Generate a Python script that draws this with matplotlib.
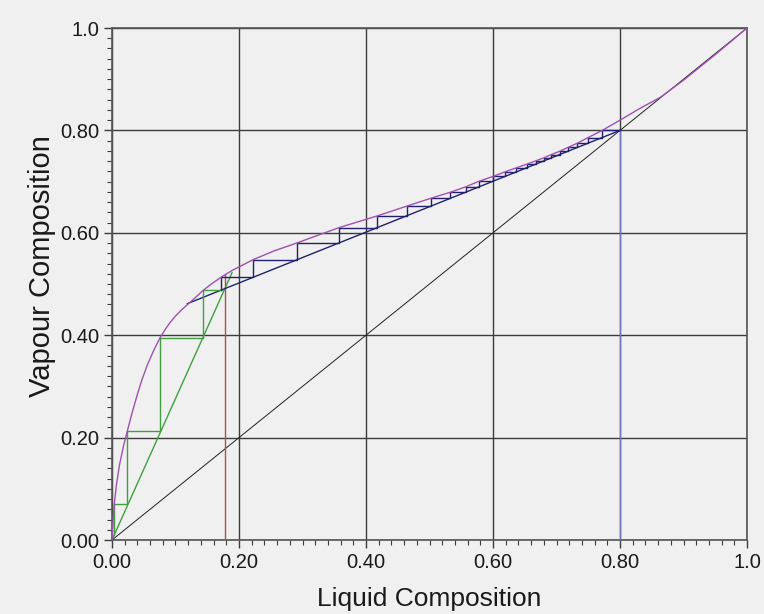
import matplotlib
matplotlib.use("Agg")
import matplotlib.pyplot as plt
from matplotlib.ticker import MultipleLocator, FixedLocator, FixedFormatter

# ---- data ----
# equilibrium curve (liquid x, vapour y)
eq_x = [0, 0.001, 0.0035, 0.007, 0.012, 0.018, 0.024, 0.032, 0.040, 0.047,
        0.056, 0.066, 0.0756, 0.085, 0.0913, 0.100, 0.110, 0.1186, 0.130, 0.143,
        0.157, 0.1717, 0.190, 0.2225, 0.255, 0.292, 0.325, 0.358, 0.418, 0.464,
        0.502, 0.533, 0.557, 0.578, 0.600, 0.619, 0.637, 0.653, 0.667, 0.680,
        0.692, 0.705, 0.718, 0.733, 0.750, 0.772, 0.800, 0.830, 0.864, 0.900,
        0.950, 1.0]
eq_y = [0, 0.025, 0.0699, 0.108, 0.148, 0.183, 0.2122, 0.250, 0.2845, 0.3125,
        0.343, 0.371, 0.395, 0.4135, 0.4245, 0.4375, 0.450, 0.4595, 0.472, 0.487,
        0.5005, 0.5132, 0.527, 0.5477, 0.5645, 0.5805, 0.5955, 0.6103, 0.6331, 0.6520,
        0.6674, 0.6793, 0.6898, 0.7007, 0.7101, 0.7191, 0.7270, 0.7340, 0.7404, 0.7464,
        0.7528, 0.7593, 0.7667, 0.7752, 0.7861, 0.800, 0.820, 0.842, 0.865, 0.898,
        0.948, 1.0]

# diagonal
diag_x = [0, 1]
diag_y = [0, 1]

# rectifying operating line
rect_x = [0.1186, 0.8]
rect_y = [0.4616, 0.8]

# stripping operating line
strip_x = [0, 0.189]
strip_y = [0, 0.522]

# feed (q) line and distillate composition line
feed_x = [0.1774, 0.1774]
feed_y = [0, 0.52]
dist_x = [0.8, 0.8]
dist_y = [0, 0.8]

# rectifying-section stage corners
rect_step_x = [0.8, 0.772, 0.772, 0.750, 0.750, 0.733, 0.733, 0.718, 0.718, 0.705, 0.705,
               0.692, 0.692, 0.680, 0.680, 0.667, 0.667, 0.653, 0.653, 0.637, 0.637,
               0.619, 0.619, 0.600, 0.600, 0.578, 0.578, 0.557, 0.557, 0.533, 0.533,
               0.502, 0.502, 0.464, 0.464, 0.418, 0.418, 0.358, 0.358, 0.292, 0.292,
               0.2225, 0.2225, 0.1717, 0.1717]
rect_step_y = [0.8, 0.8, 0.7861, 0.7861, 0.7752, 0.7752, 0.7667, 0.7667, 0.7593, 0.7593, 0.7528,
               0.7528, 0.7464, 0.7464, 0.7404, 0.7404, 0.7340, 0.7340, 0.7270, 0.7270, 0.7191,
               0.7191, 0.7101, 0.7101, 0.7007, 0.7007, 0.6898, 0.6898, 0.6793, 0.6793, 0.6674,
               0.6674, 0.6520, 0.6520, 0.6331, 0.6331, 0.6103, 0.6103, 0.5805, 0.5805, 0.5477,
               0.5477, 0.5132, 0.5132, 0.4880]

# stripping-section stage corners
strip_step_x = [0.1717, 0.143, 0.143, 0.0756, 0.0756, 0.0241, 0.0241, 0.0035, 0.0035]
strip_step_y = [0.4880, 0.4880, 0.395, 0.395, 0.2122, 0.2122, 0.0699, 0.0699, 0.0097]

x_ticks = [0.0, 0.2, 0.4, 0.6, 0.8, 1.0]
x_tick_labels = ["0.00", "0.20", "0.40", "0.60", "0.80", "1.0"]
y_ticks = [0.0, 0.2, 0.4, 0.6, 0.8, 1.0]
y_tick_labels = ["0.00", "0.20", "0.40", "0.60", "0.80", "1.0"]

# ---- figure ----
plt.rcParams['font.family'] = ['Liberation Sans', 'DejaVu Sans']
bg = "#f0f0f0"
fig = plt.figure(figsize=(7.64, 6.14), dpi=100, facecolor=bg)
ax = fig.add_axes([112 / 764, 1 - 540 / 614, (747 - 112) / 764, (540 - 28) / 614])
ax.set_facecolor(bg)

grid_c = "#3c3c3c"
ax.set_xlim(0, 1)
ax.set_ylim(0, 1)
ax.xaxis.set_major_locator(FixedLocator(x_ticks))
ax.xaxis.set_major_formatter(FixedFormatter(x_tick_labels))
ax.yaxis.set_major_locator(FixedLocator(y_ticks))
ax.yaxis.set_major_formatter(FixedFormatter(y_tick_labels))
ax.xaxis.set_minor_locator(MultipleLocator(0.02))
ax.yaxis.set_minor_locator(MultipleLocator(0.02))
ax.grid(True, which="major", color=grid_c, linewidth=1.0)
ax.set_axisbelow(True)
ax.tick_params(which="major", direction="out", length=6, width=1, color=grid_c,
               labelsize=14.5, pad=3, top=False, right=False, labelcolor="#1a1a1a")
ax.tick_params(which="minor", direction="out", length=3.5, width=0.8, color=grid_c,
               top=False, right=False)
for s in ax.spines.values():
    s.set_color("#555555")
    s.set_linewidth(1.2)

ax.plot(diag_x, diag_y, color="#202020", lw=0.7, zorder=3)
ax.plot(dist_x, dist_y, color="#7078c0", lw=1.0, zorder=3)
ax.plot(feed_x, feed_y, color="#b04f4f", lw=1.0, zorder=3)
ax.plot(strip_x, strip_y, color="#3fa03f", lw=1.0, zorder=4)
ax.plot(rect_x, rect_y, color="#202070", lw=1.0, zorder=4)
ax.plot(strip_step_x, strip_step_y, color="#3fa03f", lw=1.0, zorder=4)
ax.plot(rect_step_x, rect_step_y, color="#202070", lw=1.0, zorder=4)
ax.plot(eq_x, eq_y, color="#a050b0", lw=1.0, zorder=5)

ax.set_xlabel("Liquid Composition", fontsize=19, labelpad=11, color="#1a1a1a")
ax.set_ylabel("Vapour Composition", fontsize=21, color="#1a1a1a")
ax.yaxis.set_label_coords(-0.088, 0.535)

fig.savefig("out.png", dpi=100, facecolor=bg)
